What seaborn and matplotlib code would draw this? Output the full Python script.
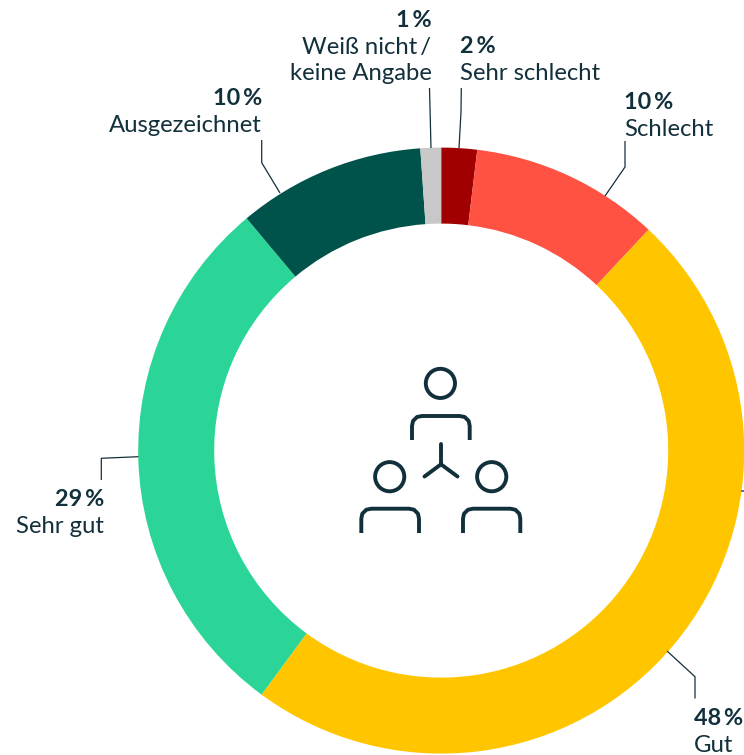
import matplotlib
matplotlib.use("Agg")
import matplotlib.pyplot as plt
from matplotlib.patches import Circle
import seaborn as sns

categories = ['Sehr schlecht', 'Schlecht', 'Gut', 'Sehr gut', 'Ausgezeichnet', 'Weiß nicht\u2009/\nkeine Angabe']
# slice sizes as measured off the ring, the printed labels are rounded
shares = [1.9, 10.1, 48.1, 28.8, 10.0, 1.1]
share_labels = ['2', '10', '48', '29', '10', '1']
colours = ['#a00000', '#ff5242', '#ffc600', '#2bd598', '#00534a', '#c8c8c8']

INK = '#12303b'
W, H = 744, 755

sns.set_theme(style='white')
plt.rcParams['font.family'] = ['Lato', 'DejaVu Sans']


def flip(points):
    # picture pixels have y going down, the axes have it going up
    return [p[0] for p in points], [H - p[1] for p in points]


def draw_line(ax, points, width=0.9, colour=INK, cap='butt'):
    xs, ys = flip(points)
    ax.plot(xs, ys, color=colour, lw=width, solid_capstyle=cap, solid_joinstyle='miter')


def draw_person(ax, cx, cy, left, right, top, bottom):
    ax.add_patch(Circle((cx, H - cy), 14.6, fill=False, ec=INK, lw=2.8))
    r = 10
    corner = [(left, bottom), (left, top + r), (left + 1, top + 5), (left + 3, top + 3),
              (left + 5, top + 1), (left + r, top), (right - r, top), (right - 5, top + 1),
              (right - 3, top + 3), (right - 1, top + 5), (right, top + r), (right, bottom)]
    xs, ys = flip(corner)
    ax.plot(xs, ys, color=INK, lw=2.8, solid_capstyle='butt', solid_joinstyle='round')


fig = plt.figure(figsize=(W / 100, H / 100), dpi=100)
ax = fig.add_axes([0, 0, 1, 1])

ax.pie(shares, colors=sns.color_palette(colours), startangle=90, counterclock=False,
       center=(441.2, H - 450.6), radius=303, wedgeprops={'width': 76, 'linewidth': 0})

ax.set_xlim(0, W)
ax.set_ylim(0, H)
ax.set_aspect('equal')
ax.axis('off')

# leader lines, in picture pixels, same order as categories
leaders = [
    [(461.3, 88), (461, 112), (459, 148)],
    [(625, 141), (625, 167), (605, 196)],
    [(667, 651), (695, 676.7), (695, 698.5)],
    [(138.5, 456.7), (101.3, 458.3), (101.3, 480)],
    [(261.7, 140), (261.7, 162.7), (280, 193)],
    [(429.5, 88), (431, 148)],
]
for points in leaders:
    draw_line(ax, points)

# stray tick at the right edge of the reference
draw_line(ax, [(741, 491), (744, 491)], width=1.2, colour='#1f5fe0')

# x, baseline of the value, alignment
anchors = [
    (460, 53, 'left'),
    (624, 109, 'left'),
    (694, 725, 'left'),
    (104, 506, 'right'),
    (262, 105, 'right'),
    (431.5, 27, 'right'),
]
LINE = 26.7
for name, label, (x, y, ha) in zip(categories, share_labels, anchors):
    ax.text(x, H - y, f'{label}\u2009%', ha=ha, va='baseline', fontsize=16.8,
            fontweight='bold', color=INK)
    for i, line in enumerate(name.split('\n')):
        ax.text(x, H - (y + LINE * (i + 1)), line, ha=ha, va='baseline', fontsize=17.2, color=INK)

# centre icon
draw_person(ax, 440.4, 383.4, 412, 469.7, 416, 440)
draw_person(ax, 389.7, 476.7, 361.3, 419, 508.7, 533)
draw_person(ax, 491.7, 476.7, 463, 520.3, 508.7, 533)
for tip in [(441, 444), (424.5, 476.5), (457.5, 476.5)]:
    draw_line(ax, [(441, 464.3), tip], width=2.8, cap='round')

fig.savefig('out.png', dpi=100)
